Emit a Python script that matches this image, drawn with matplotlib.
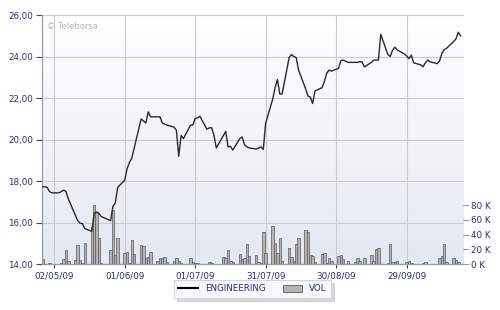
import matplotlib
matplotlib.use("Agg")
import matplotlib.pyplot as plt
import matplotlib.dates as mdates
import matplotlib.transforms as mtransforms
from matplotlib.lines import Line2D
from matplotlib.patches import Patch
from matplotlib.colors import LinearSegmentedColormap
import numpy as np
import pandas as pd

# ---- data (one value per trading day, starting 27/04/2009) ----
price = [
    17.73, 17.73, 17.70, 17.50, 17.44,
    17.44, 17.50, 17.57, 17.50, 17.15,
    16.36, 16.10, 15.98, 15.96, 15.72,
    15.59, 16.45, 16.52, 16.45, 16.30,
    16.15, 16.10, 16.80, 16.95, 17.70,
    18.05, 18.60, 18.90, 19.10, 19.58,
    21.00, 20.90, 20.80, 21.34, 21.10,
    21.10, 21.10, 20.80, 20.75, 20.70,
    20.60, 20.45, 19.20, 20.20, 20.05,
    20.70, 20.70, 21.02, 21.05, 21.13,
    20.50, 20.57, 20.57, 20.20, 19.60,
    20.20, 20.40, 19.65, 19.68, 19.50,
    20.05, 20.13, 19.75, 19.65, 19.60,
    19.55, 19.60, 19.65, 19.53, 20.80,
    21.95, 22.50, 22.90, 22.20, 22.20,
    23.95, 24.10, 24.00, 23.95, 23.35,
    22.45, 22.10, 22.05, 21.74, 22.35,
    22.50, 22.80, 23.20, 23.35, 23.30,
    23.43, 23.80, 23.83, 23.78, 23.72,
    23.72, 23.72, 23.75, 23.75, 23.50,
    23.72, 23.83, 23.83, 23.83, 25.07,
    24.10, 24.00, 24.30, 24.45, 24.32,
    24.13, 24.03, 23.90, 24.07, 23.70,
    23.60, 23.51, 23.70, 23.83, 23.75,
    23.66, 23.78, 24.15, 24.33, 24.40,
    24.72, 24.85, 25.17, 24.99,
]
volume_k = [
    7, 1, 1, 2, 0.5,
    1, 2, 7, 19, 5,
    6, 26, 6, 2, 29,
    50, 80, 70, 35, 2,
    1, 19, 73, 12, 36,
    15, 16, 2, 33, 14,
    26, 25, 9, 10, 16,
    5, 8, 9, 10, 3,
    5, 9, 5, 2, 1,
    8, 3, 2, 2, 1,
    1, 3, 2, 1, 0.5,
    10, 9, 19, 5, 3,
    14, 7, 8, 28, 11,
    13, 3, 2, 43, 15,
    52, 29, 15, 35, 5,
    22, 10, 5, 28, 36,
    46, 44, 12, 11, 3,
    14, 15, 2, 8, 5,
    11, 12, 7, 1, 5,
    3, 9, 4, 1, 9,
    12, 5, 21, 22, 1,
    2, 27, 3, 3, 4,
    1, 3, 5, 2, 1,
    1, 2, 3, 1, 1,
    1, 8, 11, 27, 3,
    9, 6, 3, 1,
]
start_date = "2009-04-27"
tick_dates = ["2009-05-02", "2009-06-01", "2009-07-01", "2009-07-31",
              "2009-08-30", "2009-09-29"]
tick_labels = ["02/05/09", "01/06/09", "01/07/09", "31/07/09", "30/08/09", "29/09/09"]
price_ticks = [14, 16, 18, 20, 22, 24, 26]
vol_ticks = [0, 20, 40, 60, 80]
series_name = "ENGINEERING"
vol_name = "VOL"

dates = pd.bdate_range(start_date, periods=len(price))
xd = mdates.date2num(dates)

TXT = "#2c2c78"
GRID = "#c9cbd0"

fig = plt.figure(figsize=(5, 3.1), dpi=100)
axv = fig.add_axes([0.083, 0.1474, 0.843, 0.8042])
axp = axv.twinx()

xmin = mdates.date2num(pd.Timestamp("2009-04-26 14:00"))
xmax = mdates.date2num(pd.Timestamp("2009-10-23 00:00"))

# gradient background
grad = np.linspace(0, 1, 256).reshape(-1, 1)
cmap = LinearSegmentedColormap.from_list("bg", ["#ffffff", "#e3e8f1"])
axv.imshow(grad, extent=(0, 1, 0, 1), transform=axv.transAxes, aspect="auto",
           cmap=cmap, zorder=0, interpolation="bilinear")

# volume bars
axv.bar(xd, volume_k, width=1.05, color="#b4b4b4", edgecolor="#5a5a5a",
        linewidth=0.5, zorder=3)
axv.set_xlim(xmin, xmax)
axv.set_ylim(0, 80 * 249.3 / 59.3)

# grid lines
tick_nums = mdates.date2num(pd.to_datetime(tick_dates))
for t in tick_nums:
    axv.axvline(t, color=GRID, lw=0.8, zorder=1)
blend = mtransforms.blended_transform_factory(axv.transAxes, axp.transData)
for p in price_ticks:
    axv.plot([0, 1], [p, p], transform=blend, color=GRID, lw=0.8, zorder=1,
             clip_on=False)

# price line
axp.plot(xd, price, color="#2a2a2a", lw=1.0, zorder=5)
axp.set_ylim(14, 26)
axp.set_xlim(xmin, xmax)

# axes styling
axp.yaxis.tick_left()
axv.yaxis.tick_right()
axp.set_yticks(price_ticks)
axp.set_yticklabels([f"{p:.2f}".replace(".", ",") for p in price_ticks])
axp.tick_params(axis="y", length=4, width=0.8, color="#444466", pad=2,
                labelsize=6.3, labelcolor=TXT)
axv.set_yticks(vol_ticks)
axv.set_yticklabels([f"{v} K" for v in vol_ticks])
axv.tick_params(axis="y", length=4, width=0.6, color="#888888", pad=2,
                labelsize=6.3, labelcolor=TXT)
axv.set_xticks(tick_nums)
axv.set_xticklabels(tick_labels)
axv.tick_params(axis="x", length=3, width=0.8, color="#444466", pad=2,
                labelsize=6.3, labelcolor=TXT)
axp.tick_params(axis="x", bottom=False, labelbottom=False)

for ax in (axv, axp):
    for s in ("top", "right"):
        ax.spines[s].set_visible(False)
    ax.spines["left"].set_color("#9a9aa6")
    ax.spines["bottom"].set_color("#9a9aa6")
    ax.spines["left"].set_linewidth(0.8)
    ax.spines["bottom"].set_linewidth(0.8)
axp.patch.set_visible(False)

axv.text(0.013, 0.955, "\u00a9 Teleborsa", transform=axv.transAxes,
         fontsize=6, color="#b8b8b8", va="center", ha="left", zorder=6)

handles = [Line2D([0], [0], color="black", lw=1.5),
           Patch(facecolor="#b4b4b4", edgecolor="#5a5a5a", linewidth=0.6)]
leg = fig.legend(handles, [series_name, vol_name], loc="center",
                 bbox_to_anchor=(0.505, 0.068), ncol=2, fontsize=6.3,
                 frameon=True, shadow={"color": "#c4c8d0", "alpha": 0.7},
                 fancybox=False,
                 handlelength=2.2, handleheight=0.9, columnspacing=2.0,
                 borderpad=0.5, labelcolor=TXT)
leg.get_frame().set_edgecolor("#d0d4dc")
leg.get_frame().set_linewidth(0.8)
leg.get_frame().set_facecolor("#f7f8fb")

fig.savefig("out.png", dpi=100)
